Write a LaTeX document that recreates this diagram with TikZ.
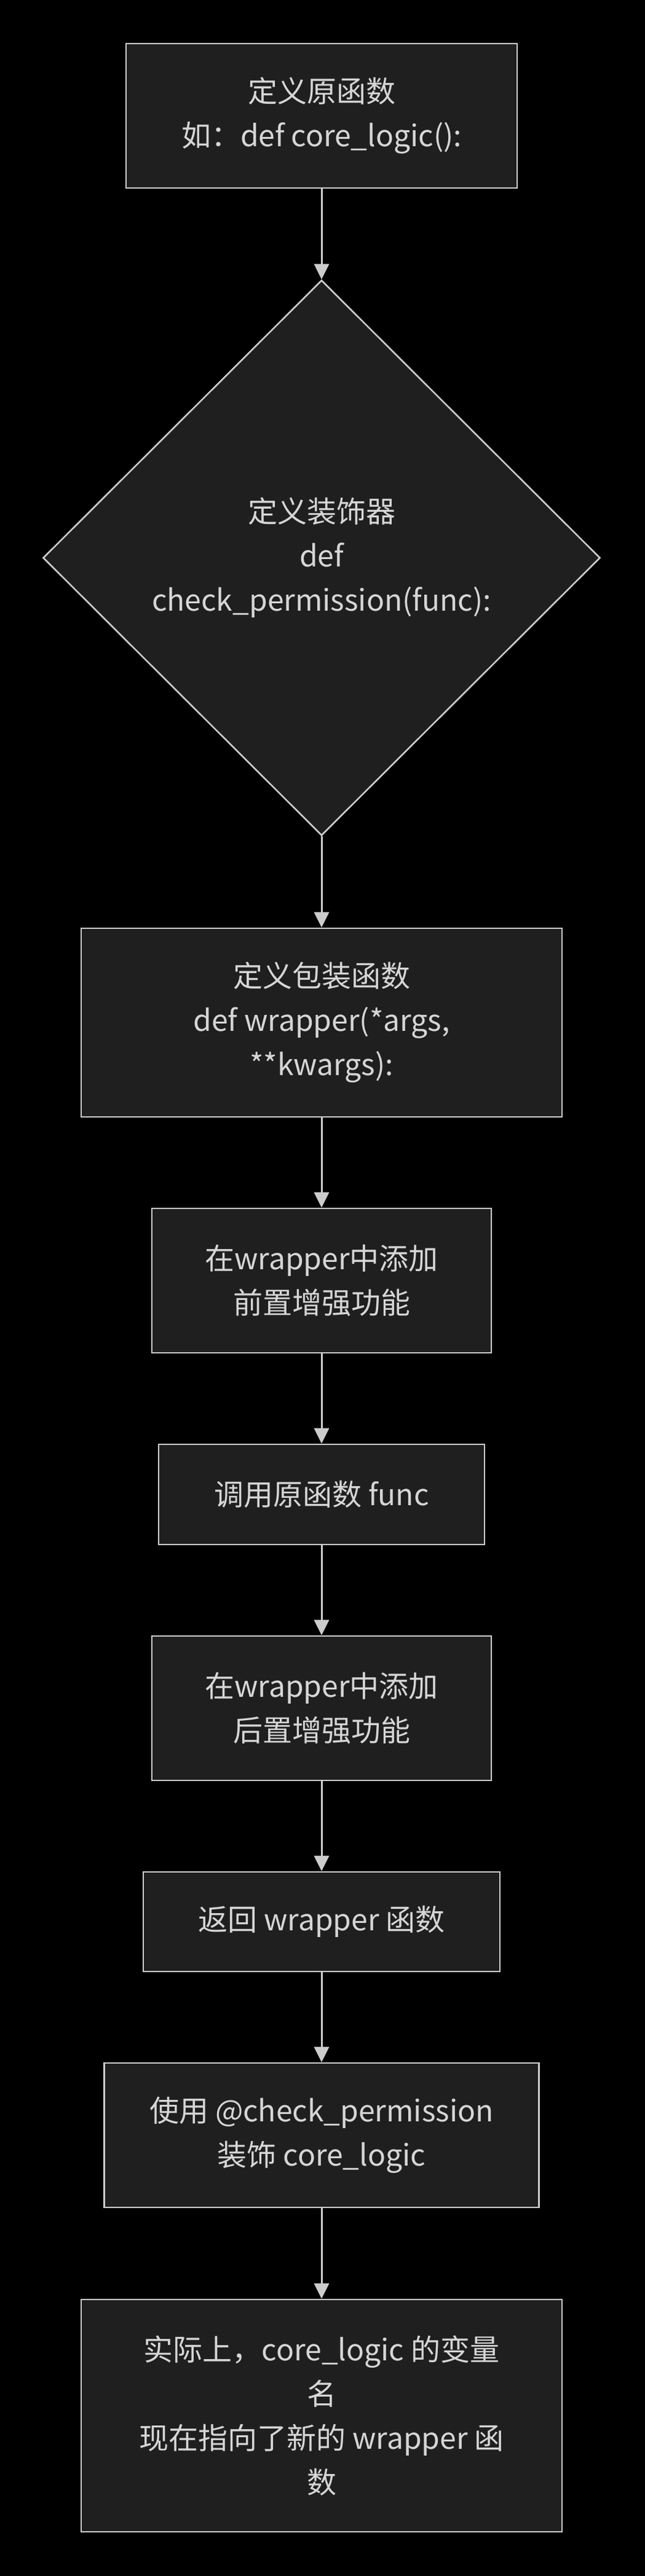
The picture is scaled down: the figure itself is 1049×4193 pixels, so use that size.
\documentclass[tikz,border=0pt]{standalone}
\usepackage{fontspec}
\setmainfont{Noto Sans CJK SC}
\usetikzlibrary{shapes.geometric,arrows.meta}
\definecolor{boxfill}{HTML}{1F1F1F}
\definecolor{boxline}{HTML}{CCCCCC}
\definecolor{txt}{HTML}{D6D6D6}
\begin{document}
\begin{tikzpicture}[x=0.5pt,y=-0.5pt,
  stepbox/.style={draw=boxline, fill=boxfill, line width=1.3pt, text=txt,
    align=center, inner sep=0pt, font=\fontsize{24}{36}\selectfont},
  decbox/.style={stepbox, shape=diamond},
  arr/.style={draw=boxline, line width=1.5pt, -{Triangle[width=12pt,length=12.5pt]}}]
\fill[black] (0,0) rectangle (1049,4193);
\useasboundingbox (0,0) rectangle (1049,4193);

\node[stepbox, minimum width=318pt, minimum height=117.5pt] (n1) at (523,188.5)
  {定义原函数\\如：def core\_logic():};
\node[decbox, minimum width=453pt, minimum height=452pt] (n2) at (523,908)
  {定义装饰器\\def\\check\_permission(func):};
\node[stepbox, minimum width=391pt, minimum height=153.5pt] (n3) at (523,1664.5)
  {定义包装函数\\def wrapper(*args,\\**kwargs):};
\node[stepbox, minimum width=276pt, minimum height=117.5pt] (n4) at (523,2084.5)
  {在wrapper中添加\\前置增强功能};
\node[stepbox, minimum width=265pt, minimum height=81.5pt] (n5) at (523,2432.5)
  {调用原函数 func};
\node[stepbox, minimum width=276pt, minimum height=117.5pt] (n6) at (523,2780.5)
  {在wrapper中添加\\后置增强功能};
\node[stepbox, minimum width=290pt, minimum height=81pt] (n7) at (523,3128)
  {返回 wrapper 函数};
\node[stepbox, minimum width=353.5pt, minimum height=117.5pt] (n8) at (523,3475.5)
  {使用 @check\_permission\\装饰 core\_logic};
\node[stepbox, minimum width=391pt, minimum height=189pt] (n9) at (523,3932)
  {实际上，core\_logic 的变量\\名\\现在指向了新的 wrapper 函\\数};

\draw[arr] (n1) -- (n2);
\draw[arr] (n2) -- (n3);
\draw[arr] (n3) -- (n4);
\draw[arr] (n4) -- (n5);
\draw[arr] (n5) -- (n6);
\draw[arr] (n6) -- (n7);
\draw[arr] (n7) -- (n8);
\draw[arr] (n8) -- (n9);
\end{tikzpicture}
\end{document}
